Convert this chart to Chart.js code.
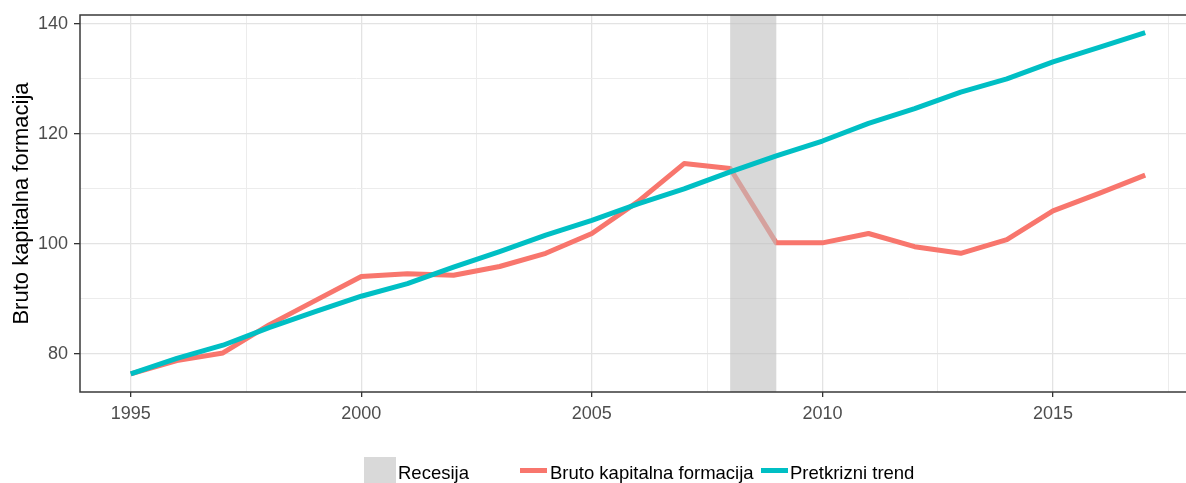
<!DOCTYPE html>
<html>
<head>
<meta charset="utf-8">
<script src="https://cdn.jsdelivr.net/npm/chart.js@4/dist/chart.umd.min.js"></script>
<style>
  html, body { margin: 0; padding: 0; background: #ffffff; overflow: hidden; }
  #wrap { position: relative; width: 1186px; height: 483px; overflow: hidden; }
  canvas { position: absolute; left: 0; top: 0; }
  .lg { position: absolute; font-family: "Liberation Sans", Arial, sans-serif; font-size: 18.5px; line-height: 18.5px; color: #000; white-space: nowrap; }
  .key { position: absolute; }
</style>
</head>
<body>
<div id="wrap">
  <canvas id="c" width="1186" height="483"></canvas>
  <div class="key" style="left:364px; top:457px; width:32px; height:32px; background:#d9d9d9;"></div>
  <div class="lg" style="left:398px; top:463.6px;">Recesija</div>
  <div class="key" style="left:520px; top:468.3px; width:27px; height:5px; background:#F8766D;"></div>
  <div class="lg" style="left:550px; top:463.6px;">Bruto kapitalna formacija</div>
  <div class="key" style="left:761px; top:468.3px; width:27px; height:5px; background:#00BFC4;"></div>
  <div class="lg" style="left:790px; top:463.6px;">Pretkrizni trend</div>
</div>
<script>
// ---- Data ----
const years = [1995,1996,1997,1998,1999,2000,2001,2002,2003,2004,2005,2006,2007,2008,2009,2010,2011,2012,2013,2014,2015,2016,2017];
const brutoKapitalnaFormacija = [76.4,78.8,80.2,85.3,89.7,94.1,94.6,94.3,95.9,98.3,101.9,107.7,114.6,113.7,100.2,100.2,101.9,99.5,98.3,100.8,106.0,109.2,112.5];
const pretkrizniTrend = [76.4,79.2,81.6,84.8,87.7,90.5,92.8,95.8,98.6,101.6,104.3,107.3,110.0,113.1,116.0,118.7,121.9,124.6,127.6,130.0,133.1,135.7,138.4];
const recessionStart = [2008];
const recessionEnd = [2009];
const xMajorTicks = [1995,2000,2005,2010,2015];
const xMinorTicks = [1997.5,2002.5,2007.5,2012.5,2017.5];
const yMajorTicks = [80,100,120,140];
const yMinorTicks = [90,110,130];

const FONT = '"Liberation Sans", Arial, sans-serif';

const recessionPlugin = {
  id: 'recession',
  beforeDatasetDraw(chart, args) {
    if (args.index !== 0) return; // draw over red line, under teal line
    const {ctx, chartArea, scales} = chart;
    ctx.save();
    ctx.fillStyle = 'rgba(190,190,190,0.6)';
    for (let i = 0; i < recessionStart.length; i++) {
      const x0 = scales.x.getPixelForValue(recessionStart[i]);
      const x1 = scales.x.getPixelForValue(recessionEnd[i]);
      ctx.fillRect(x0, chartArea.top, x1 - x0, chartArea.bottom - chartArea.top);
    }
    ctx.restore();
  }
};

const framePlugin = {
  id: 'frame',
  afterDraw(chart) {
    const {ctx, chartArea} = chart;
    ctx.save();
    ctx.strokeStyle = '#3a3a3a';
    ctx.lineWidth = 1.5;
    ctx.beginPath();
    ctx.moveTo(chartArea.right + 2, chartArea.top);
    ctx.lineTo(chartArea.left, chartArea.top);
    ctx.lineTo(chartArea.left, chartArea.bottom);
    ctx.lineTo(chartArea.right + 2, chartArea.bottom);
    ctx.stroke();
    ctx.restore();
  }
};

const isIn = (arr, v) => arr.some(a => Math.abs(a - v) < 1e-6);

new Chart(document.getElementById('c'), {
  type: 'line',
  data: {
    datasets: [
      {
        label: 'Pretkrizni trend',
        data: years.map((y, i) => ({x: y, y: pretkrizniTrend[i]})),
        borderColor: '#00BFC4',
        borderWidth: 5,
        pointRadius: 0,
        tension: 0,
        borderJoinStyle: 'round',
        borderCapStyle: 'butt',
        fill: false
      },
      {
        label: 'Bruto kapitalna formacija',
        data: years.map((y, i) => ({x: y, y: brutoKapitalnaFormacija[i]})),
        borderColor: '#F8766D',
        borderWidth: 5,
        pointRadius: 0,
        tension: 0,
        borderJoinStyle: 'round',
        borderCapStyle: 'butt',
        fill: false
      }
    ]
  },
  options: {
    responsive: false,
    animation: false,
    devicePixelRatio: 1,
    layout: { padding: { top: 15, left: 0, right: 0, bottom: 0 } },
    plugins: { legend: { display: false }, tooltip: { enabled: false } },
    scales: {
      x: {
        type: 'linear',
        min: 1993.9,
        max: 2017.885,
        border: { display: false },
        afterBuildTicks: (s) => { s.ticks = xMajorTicks.concat(xMinorTicks).sort((a,b)=>a-b).map(v => ({value: v})); },
        afterFit: (s) => { s.height = 91; s.paddingLeft = 0; s.paddingRight = 0; },
        grid: {
          color: (c) => isIn(xMajorTicks, c.tick.value) ? '#e3e3e3' : '#ececec',
          lineWidth: (c) => isIn(xMajorTicks, c.tick.value) ? 1.3 : 1,
          tickColor: (c) => isIn(xMajorTicks, c.tick.value) ? '#333333' : 'rgba(0,0,0,0)',
          tickLength: 5,
          drawTicks: true
        },
        ticks: {
          autoSkip: false,
          maxRotation: 0,
          padding: 6,
          color: '#4d4d4d',
          font: { family: FONT, size: 18 },
          callback: (v) => isIn(xMajorTicks, v) ? String(v) : ''
        }
      },
      y: {
        type: 'linear',
        min: 73.1,
        max: 141.6,
        border: { display: false },
        afterBuildTicks: (s) => { s.ticks = yMajorTicks.concat(yMinorTicks).sort((a,b)=>a-b).map(v => ({value: v})); },
        afterFit: (s) => { s.width = 80; s.paddingTop = 0; s.paddingBottom = 0; },
        grid: {
          color: (c) => isIn(yMajorTicks, c.tick.value) ? '#e3e3e3' : '#ececec',
          lineWidth: (c) => isIn(yMajorTicks, c.tick.value) ? 1.3 : 1,
          tickColor: (c) => isIn(yMajorTicks, c.tick.value) ? '#333333' : 'rgba(0,0,0,0)',
          tickLength: 6,
          drawTicks: true
        },
        ticks: {
          padding: 6,
          color: '#4d4d4d',
          font: { family: FONT, size: 18 },
          callback: (v) => isIn(yMajorTicks, v) ? String(v) : ''
        },
        title: {
          display: true,
          text: 'Bruto kapitalna formacija',
          color: '#000000',
          font: { family: FONT, size: 22 },
          padding: { top: 9, bottom: 0 }
        }
      }
    }
  },
  plugins: [recessionPlugin, framePlugin]
});
</script>
</body>
</html>
